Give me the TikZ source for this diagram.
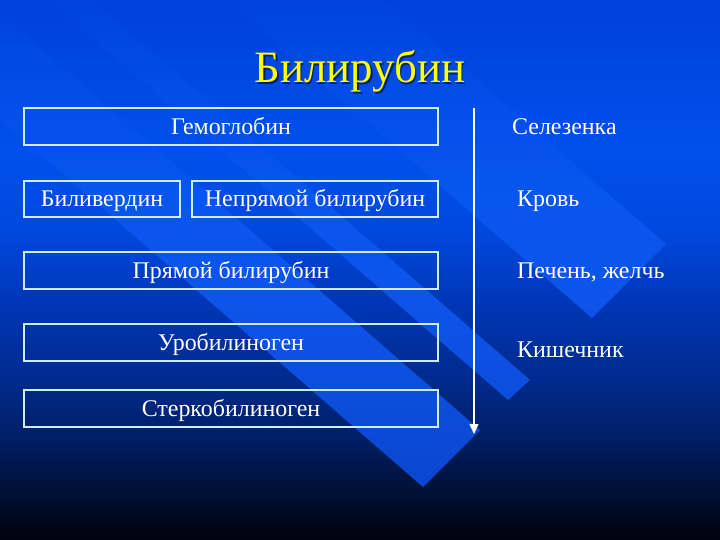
\documentclass[tikz,border=0pt]{standalone}
\usepackage{fontspec}
\setmainfont{Liberation Serif}
\usetikzlibrary{arrows.meta}
\definecolor{bgA}{RGB}{0,2,12}
\definecolor{bgB}{RGB}{0,16,55}
\definecolor{bgC}{RGB}{0,30,100}
\definecolor{bgD}{RGB}{0,42,140}
\definecolor{bgE}{RGB}{0,55,185}
\definecolor{bgF}{RGB}{0,72,222}
\definecolor{bgG}{RGB}{0,80,236}
\definecolor{bgH}{RGB}{0,64,220}
\definecolor{stA}{RGB}{10,64,196}
\definecolor{stB}{RGB}{10,70,206}
\definecolor{stC}{RGB}{12,77,220}
\definecolor{stD}{RGB}{14,84,234}
\definecolor{stE}{RGB}{8,86,240}
\definecolor{stF}{RGB}{3,78,234}
\definecolor{stG}{RGB}{0,66,222}
\definecolor{boxline}{RGB}{205,238,255}
\definecolor{titleyellow}{RGB}{255,255,0}
% positions: bottom (y=540px) at 25bp, top (y=0px) at 75bp
\pgfdeclareverticalshading{slidebg}{100bp}{%
  color(0bp)=(bgA); color(25bp)=(bgA);
  color(29.63bp)=(bgB); color(34.26bp)=(bgC);
  color(39.81bp)=(bgD); color(47.22bp)=(bgE);
  color(53.70bp)=(bgF); color(61.11bp)=(bgG);
  color(75bp)=(bgH); color(100bp)=(bgH)}
\pgfdeclareverticalshading{stripeshade}{100bp}{%
  color(0bp)=(stA); color(25bp)=(stA);
  color(28.7bp)=(stB); color(37.96bp)=(stC);
  color(47.22bp)=(stD); color(56.48bp)=(stE);
  color(65.74bp)=(stF); color(75bp)=(stG); color(100bp)=(stG)}
\tikzset{
  boxnode/.style={draw=boxline, line width=1.3bp, inner sep=0pt,
    text=white, font=\fontsize{24}{28}\selectfont,
    text height=16bp, text depth=0bp, align=center},
  sidelabel/.style={anchor=base west, inner sep=0pt, text=white,
    font=\fontsize{24}{28}\selectfont},
  flowarrow/.style={draw=white, line width=1.5bp,
    -{Triangle[width=9bp,length=10bp]}},
}
\begin{document}
\begin{tikzpicture}[x=1bp,y=-1bp]
\useasboundingbox (0,0) rectangle (720,540);
\shade[shading=slidebg] (0,0) rectangle (720,540);
\begin{scope}
  \clip (-105.3,27.7) -- (423,487) -- (480,430) -- (-48.3,-29.3) -- cycle
        (-20.3,-59.3) -- (508,400) -- (530,380) -- (1.7,-79.3) -- cycle
        (63.7,-141.3) -- (592,318) -- (666,244) -- (137.7,-215.3) -- cycle;
  \shade[shading=stripeshade] (0,0) rectangle (720,540);
\end{scope}
% title
\node[anchor=base, inner sep=0pt, text=black, opacity=0.55,
  font=\fontsize{45}{50}\selectfont] at (361.5,84.5) {Билирубин};
\node[anchor=base, inner sep=0pt, text=titleyellow,
  font=\fontsize{45}{50}\selectfont] (title) at (360,83) {Билирубин};
% boxes
\node[boxnode, minimum width=414bp, minimum height=37bp] (hem) at (231,126.5) {Гемоглобин};
\node[boxnode, minimum width=156bp, minimum height=36bp] (bv) at (102,199) {Биливердин};
\node[boxnode, minimum width=246bp, minimum height=36bp] (nb) at (315,199) {Непрямой билирубин};
\node[boxnode, minimum width=414bp, minimum height=37bp] (pb) at (231,270.5) {Прямой билирубин};
\node[boxnode, minimum width=414bp, minimum height=37bp] (uro) at (231,342.5) {Уробилиноген};
\node[boxnode, minimum width=414bp, minimum height=37bp] (ster) at (231,408.5) {Стеркобилиноген};
% arrow
\coordinate (atop) at (474,108);
\coordinate (abot) at (474,434);
\draw[flowarrow] (atop) -- (abot);
% side labels
\node[sidelabel] (sel) at (512,135) {Селезенка};
\node[sidelabel] (krov) at (517,207) {Кровь};
\node[sidelabel] (pech) at (517,279) {Печень, желчь};
\node[sidelabel] (kish) at (517,357) {Кишечник};
\end{tikzpicture}
\end{document}
